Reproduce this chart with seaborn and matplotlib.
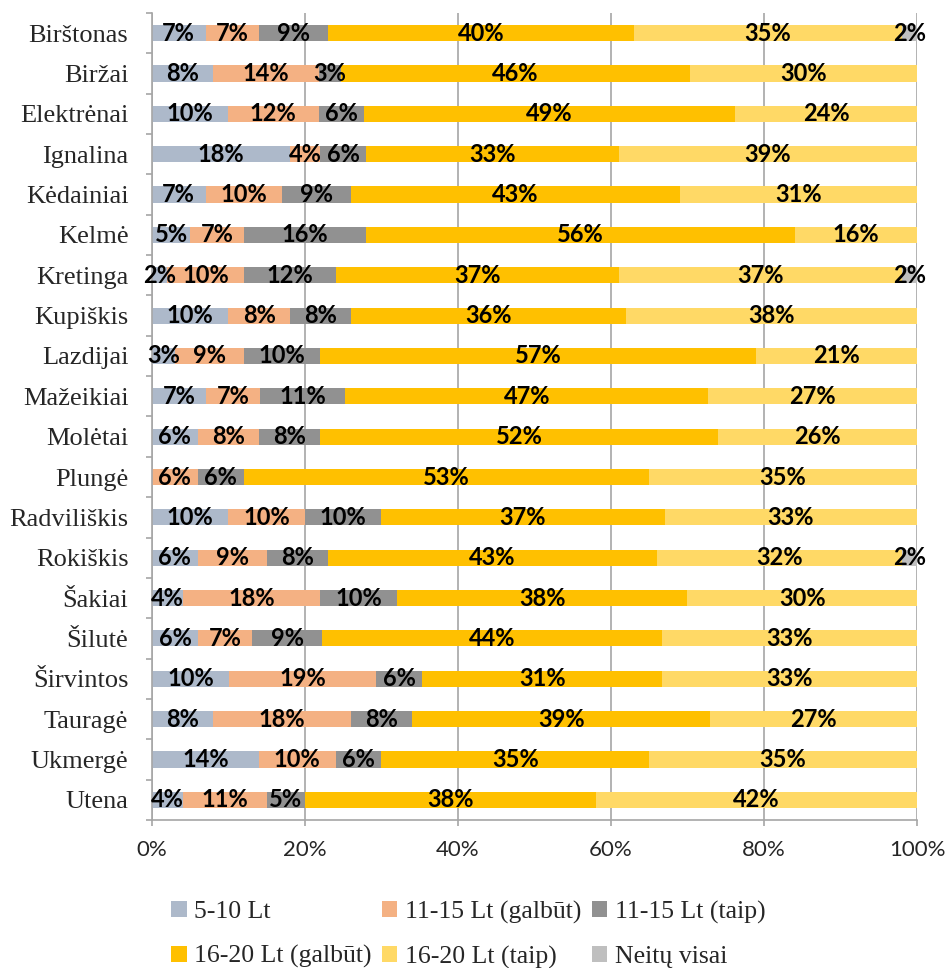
import numpy as np
import pandas as pd
import matplotlib
matplotlib.use("Agg")
import matplotlib.pyplot as plt
import seaborn as sns
from matplotlib.patches import Patch

# ── Data ───────────────────────────────────────────────────
savivaldybes = ["Birštonas", "Biržai", "Elektrėnai", "Ignalina", "Kėdainiai",
                "Kelmė", "Kretinga", "Kupiškis", "Lazdijai", "Mažeikiai",
                "Molėtai", "Plungė", "Radviliškis", "Rokiškis", "Šakiai",
                "Šilutė", "Širvintos", "Tauragė", "Ukmergė", "Utena"]

kaina_5_10        = [7, 8, 10, 18, 7, 5, 2, 10, 3, 7, 6, 0, 10, 6, 4, 6, 10, 8, 14, 4]
kaina_11_15_galbut = [7, 14, 12, 4, 10, 7, 10, 8, 9, 7, 8, 6, 10, 9, 18, 7, 19, 18, 10, 11]
kaina_11_15_taip   = [9, 3, 6, 6, 9, 16, 12, 8, 10, 11, 8, 6, 10, 8, 10, 9, 6, 8, 6, 5]
kaina_16_20_galbut = [40, 46, 49, 33, 43, 56, 37, 36, 57, 47, 52, 53, 37, 43, 38, 44, 31, 39, 35, 38]
kaina_16_20_taip   = [35, 30, 24, 39, 31, 16, 37, 38, 21, 27, 26, 35, 33, 32, 30, 33, 33, 27, 35, 42]
neitu_visai        = [2, 0, 0, 0, 0, 0, 2, 0, 0, 0, 0, 0, 0, 2, 0, 0, 0, 0, 0, 0]

serijos = ["5-10 Lt", "11-15 Lt (galbūt)", "11-15 Lt (taip)",
           "16-20 Lt (galbūt)", "16-20 Lt (taip)", "Neitų visai"]
spalvos = ["#ADB9CA", "#F4B183", "#919191", "#FFC000", "#FFD966", "#BFBFBF"]

df = pd.DataFrame({
    serijos[0]: kaina_5_10,
    serijos[1]: kaina_11_15_galbut,
    serijos[2]: kaina_11_15_taip,
    serijos[3]: kaina_16_20_galbut,
    serijos[4]: kaina_16_20_taip,
    serijos[5]: neitu_visai,
}, index=savivaldybes)

# 100% stacked: normalise rows, labels keep the printed values
pct = df.div(df.sum(axis=1), axis=0) * 100
cum = pct.cumsum(axis=1)

# ── Style ──────────────────────────────────────────────────
sns.set_style("white")
plt.rcParams["font.family"] = ["Lato", "DejaVu Sans"]
GRID = "#A6A6A6"

fig = plt.figure(figsize=(9.48, 9.68), dpi=100)
ax = fig.add_axes([0.1603, 0.1529, 0.807, 0.8337])

# stacked bars: draw cumulative totals from the last series backwards
for col, color in reversed(list(zip(serijos, spalvos))):
    vals = cum[col].where(df[col] > 0, 0)
    sns.barplot(x=vals.values, y=savivaldybes, order=savivaldybes, orient="h",
                color=color, saturation=1, width=0.4, linewidth=0,
                errorbar=None, ax=ax)

# data labels
for i, name in enumerate(savivaldybes):
    for col in serijos:
        v = df.loc[name, col]
        if v <= 0:
            continue
        xc = cum.loc[name, col] - pct.loc[name, col] / 2
        ax.text(xc, i, f"{v}%", ha="center", va="center", fontsize=17,
                fontweight="bold", color="black", clip_on=False)

# ── Axes ───────────────────────────────────────────────────
ax.set_xlim(0, 100)
ax.set_ylim(len(savivaldybes) - 0.5, -0.5)
ax.set_xticks(np.arange(0, 101, 20))
ax.set_xticklabels([f"{t}%" for t in range(0, 101, 20)], fontsize=16)
ax.set_yticks(np.arange(len(savivaldybes)))
ax.set_yticklabels(savivaldybes, family="Liberation Serif", fontsize=19)
ax.set_yticks(np.arange(-0.5, len(savivaldybes), 1), minor=True)
ax.set_xlabel("")
ax.set_ylabel("")

ax.xaxis.grid(True, color=GRID, linewidth=1.2)
ax.yaxis.grid(False)
ax.set_axisbelow(True)

ax.tick_params(axis="x", which="major", bottom=True, length=4.5, width=1.2,
               color=GRID, pad=10)
ax.tick_params(axis="y", which="major", left=True, length=0, pad=17)
ax.tick_params(axis="y", which="minor", left=True, length=4.5, width=1.2,
               color=GRID)

for side in ["top", "right"]:
    ax.spines[side].set_visible(False)
for side in ["left", "bottom"]:
    ax.spines[side].set_color(GRID)
    ax.spines[side].set_linewidth(1.2)

# ── Legend (row-major, 3 columns) ──────────────────────────
handles = [Patch(facecolor=c, edgecolor="none", label=s)
           for s, c in zip(serijos, spalvos)]
handles = [handles[k] for k in [0, 3, 1, 4, 2, 5]]
fig.legend(handles=handles, loc="center", bbox_to_anchor=(0.494, 0.0345),
           ncol=3, frameon=False,
           prop={"family": "Liberation Serif", "size": 18.5},
           handlelength=0.6, handleheight=0.6, handletextpad=0.3,
           columnspacing=0.4, labelspacing=0.85)

fig.savefig("out.png", dpi=100)
